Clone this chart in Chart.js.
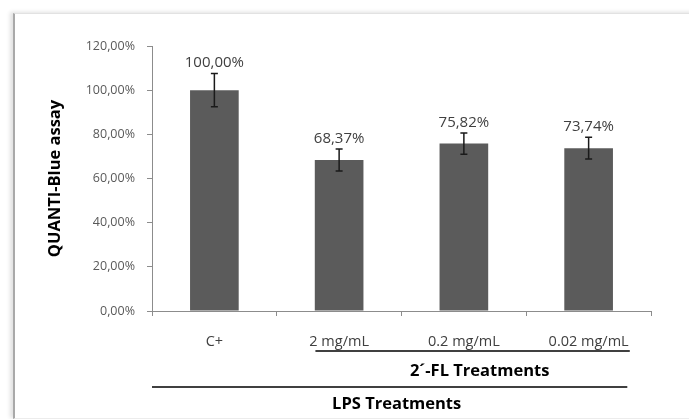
<!DOCTYPE html>
<html>
<head>
<meta charset="utf-8">
<script src="https://cdn.jsdelivr.net/npm/chart.js@4/dist/chart.umd.min.js"></script>
<style>
  html, body { margin: 0; padding: 0; background: #ffffff; }
  #wrap { position: relative; width: 689px; height: 419px; overflow: hidden; }
  #frame {
    position: absolute; left: 13px; top: 13px; width: 690px; height: 404px;
    border-left: 2px solid #a9a9a9; border-top: 1px solid #e2e2e2; border-bottom: 1px solid #ececec;
    box-shadow: -3px -1px 4px rgba(0,0,0,0.12);
    background: #ffffff;
  }
  canvas { position: absolute; left: 0; top: 0; }
</style>
</head>
<body>
<div id="wrap">
  <div id="frame"></div>
  <canvas id="c" width="689" height="419"></canvas>
</div>
<script>
// Treatment groups and mean response (% of positive control)
const categories = ['C+', '2 mg/mL', '0.2 mg/mL', '0.02 mg/mL'];
const values = [100.00, 68.37, 75.82, 73.74];
const errors = [7.5, 5.0, 4.8, 4.9];
const valueLabels = ['100,00%', '68,37%', '75,82%', '73,74%'];
const yTicks = [0, 20, 40, 60, 80, 100, 120];

const FONT = 'Open Sans';

function pct(v) {
  return v.toFixed(2).replace('.', ',') + '%';
}

// error bars, value labels and the grouping brackets below the axis
const extras = {
  id: 'extras',
  afterDatasetsDraw(chart) {
    const ctx = chart.ctx;
    const x = chart.scales.x, y = chart.scales.y;
    ctx.save();
    ctx.strokeStyle = '#1a1a1a';
    ctx.lineWidth = 1.5;
    values.forEach((v, i) => {
      const cx = x.getPixelForValue(i);
      const yt = y.getPixelForValue(v + errors[i]);
      const yb = y.getPixelForValue(v - errors[i]);
      ctx.beginPath();
      ctx.moveTo(cx, yt); ctx.lineTo(cx, yb);
      ctx.moveTo(cx - 3.5, yt); ctx.lineTo(cx + 3.5, yt);
      ctx.moveTo(cx - 3.5, yb); ctx.lineTo(cx + 3.5, yb);
      ctx.stroke();
      ctx.fillStyle = '#404040';
      ctx.font = '15px "' + FONT + '"';
      ctx.textAlign = 'center';
      ctx.textBaseline = 'bottom';
      ctx.fillText(valueLabels[i], cx, yt - 3);
    });
    ctx.restore();
  },
  afterDraw(chart) {
    const ctx = chart.ctx;
    const x = chart.scales.x;
    const step = x.getPixelForValue(1) - x.getPixelForValue(0);
    ctx.save();
    ctx.strokeStyle = '#000000';
    ctx.lineWidth = 1.5;
    // 2'-FL bracket
    const fl0 = x.getPixelForValue(1) - 0.19 * step;
    const fl1 = x.getPixelForValue(3) + 0.33 * step;
    ctx.beginPath(); ctx.moveTo(fl0, 351); ctx.lineTo(fl1, 351); ctx.stroke();
    // LPS bracket
    const l0 = x.left;
    const l1 = x.getPixelForValue(3) + 0.31 * step;
    ctx.beginPath(); ctx.moveTo(l0, 387); ctx.lineTo(l1, 387); ctx.stroke();
    ctx.fillStyle = '#000000';
    ctx.font = 'bold 16.5px "' + FONT + '"';
    ctx.textAlign = 'center';
    ctx.textBaseline = 'middle';
    ctx.fillText('2\u00B4-FL Treatments', (fl0 + fl1) / 2 + 7, 371);
    ctx.fillText('LPS Treatments', (l0 + l1) / 2 + 7, 404);
    ctx.restore();
  }
};

new Chart(document.getElementById('c'), {
  type: 'bar',
  data: {
    labels: categories,
    datasets: [{
      data: values,
      backgroundColor: '#5b5b5b',
      borderWidth: 0,
      barPercentage: 0.39,
      categoryPercentage: 1.0
    }]
  },
  options: {
    responsive: false,
    animation: false,
    devicePixelRatio: 1,
    layout: { padding: { top: 46, right: 38, left: 0, bottom: 0 } },
    plugins: { legend: { display: false }, tooltip: { enabled: false } },
    scales: {
      y: {
        min: 0, max: 120,
        afterBuildTicks(scale) { scale.ticks = yTicks.map(v => ({ value: v })); },
        afterFit(scale) { scale.width = 152; },
        border: { color: '#8c8c8c', width: 1 },
        grid: { drawOnChartArea: false, drawTicks: true, tickLength: 5, color: '#8c8c8c' },
        ticks: {
          color: '#595959', padding: 12,
          font: { family: FONT, size: 12.5 },
          callback: v => pct(v)
        },
        title: {
          display: true, text: 'QUANTI-Blue assay', color: '#000000',
          font: { family: FONT, size: 16.5, weight: 'bold' },
          padding: { top: 45, bottom: 0 }
        }
      },
      x: {
        offset: true,
        afterFit(scale) { scale.height = 108; },
        border: { color: '#8c8c8c', width: 1 },
        grid: { offset: true, drawOnChartArea: false, drawTicks: true, tickLength: 5, color: '#8c8c8c' },
        ticks: {
          color: '#404040', padding: 17,
          font: { family: FONT, size: 14.5 },
          maxRotation: 0
        }
      }
    }
  },
  plugins: [extras]
});
</script>
</body>
</html>
